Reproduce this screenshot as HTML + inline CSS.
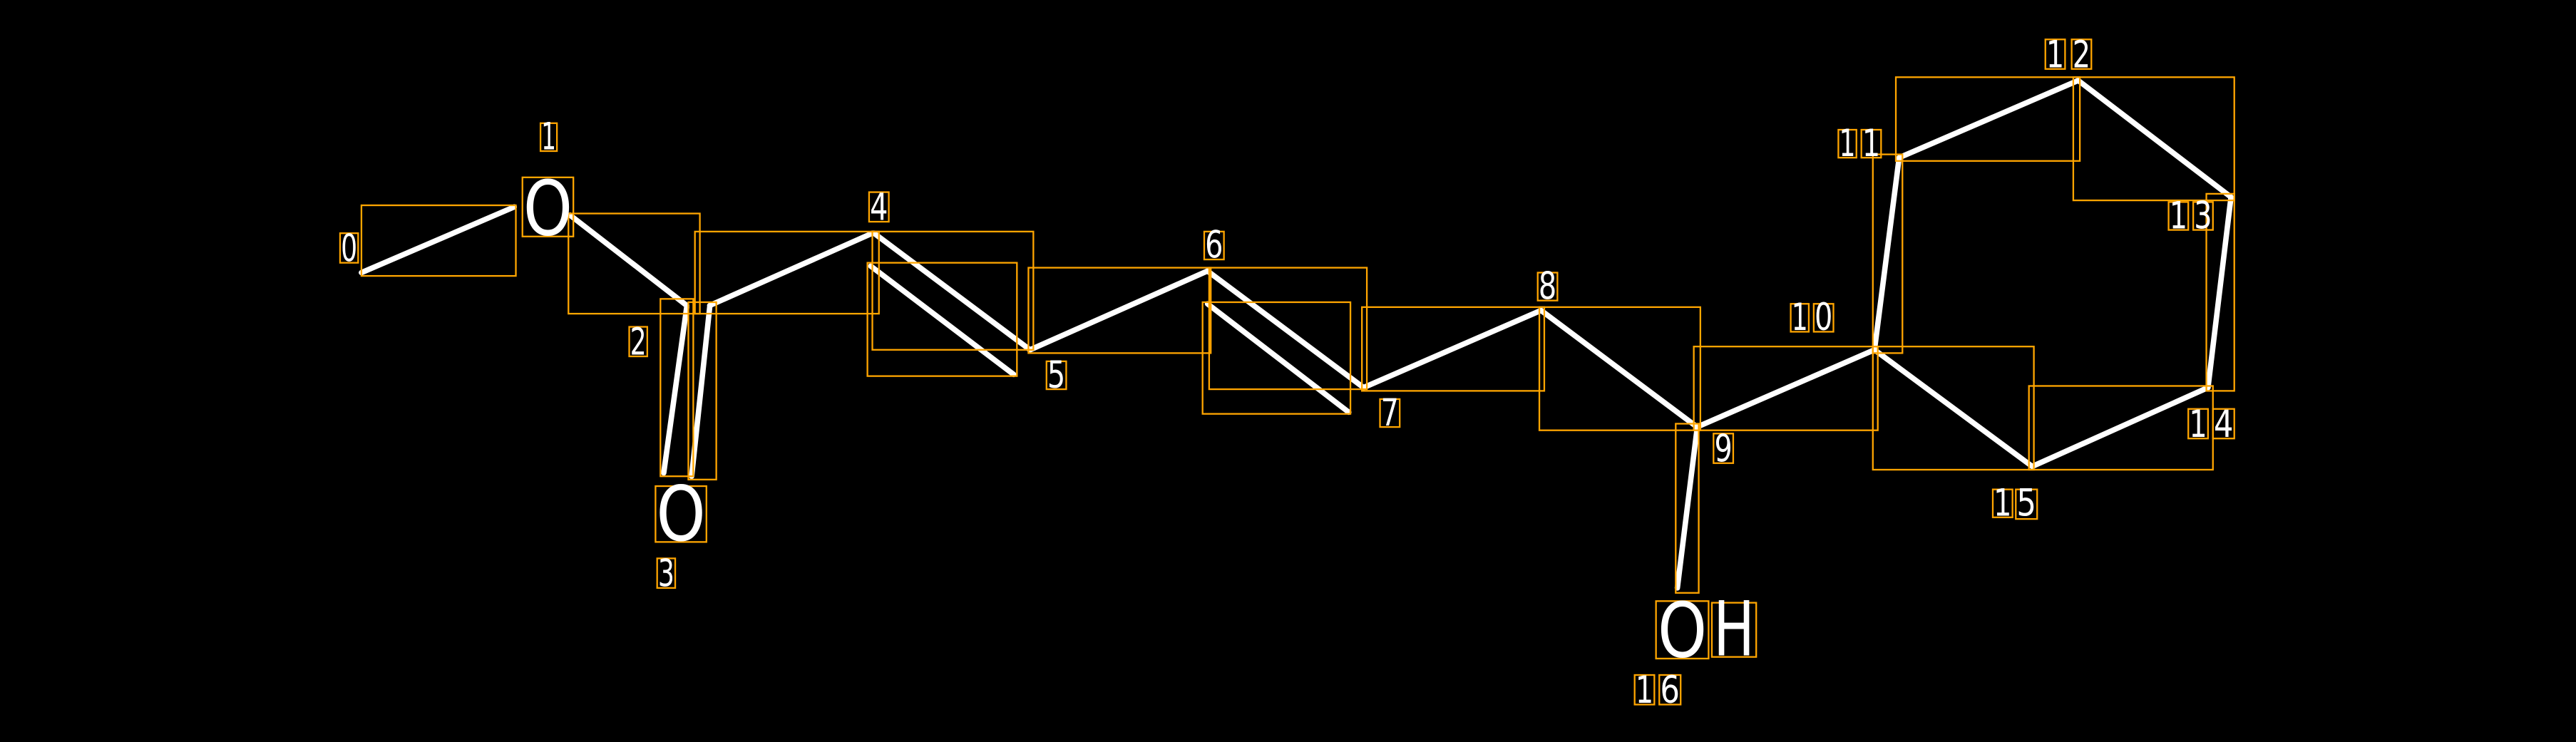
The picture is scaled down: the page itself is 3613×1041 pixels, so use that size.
<!DOCTYPE html>
<html><head><meta charset="utf-8"><style>
html,body{margin:0;padding:0;background:#000;width:3613px;height:1041px;overflow:hidden}
svg{display:block}
text{font-family:"DejaVu Sans","Liberation Sans",sans-serif;fill:#fff}
</style></head><body>
<svg width="3613" height="1041" viewBox="0 0 1568 451.8" preserveAspectRatio="none" xmlns="http://www.w3.org/2000/svg">
<rect width="1568" height="451.8" fill="#000"/>
<g stroke="#fff" stroke-width="3.3" stroke-linecap="round" fill="none">
<line x1="220" y1="166" x2="313" y2="126"/>
<line x1="347" y1="131" x2="418" y2="186"/>
<line x1="432" y1="186" x2="531" y2="142"/>
<line x1="418" y1="187" x2="404" y2="288"/>
<line x1="432" y1="187" x2="421" y2="290"/>
<line x1="532" y1="142" x2="627" y2="213"/>
<line x1="530" y1="162" x2="617" y2="228"/>
<line x1="627" y1="213" x2="735" y2="165"/>
<line x1="735" y1="165" x2="830" y2="236"/>
<line x1="735" y1="185" x2="821" y2="251"/>
<line x1="830" y1="236" x2="938" y2="189"/>
<line x1="938" y1="189" x2="1033" y2="260"/>
<line x1="1033" y1="260" x2="1141" y2="213"/>
<line x1="1033" y1="261" x2="1021" y2="358"/>
<line x1="1141" y1="213" x2="1156" y2="96"/>
<line x1="1156" y1="96" x2="1265" y2="49"/>
<line x1="1265" y1="49" x2="1358" y2="120"/>
<line x1="1358" y1="120" x2="1344" y2="236"/>
<line x1="1141" y1="213" x2="1237" y2="284"/>
<line x1="1237" y1="284" x2="1344" y2="236"/>
</g>
<g stroke="#ffa500" stroke-width="1" fill="none">
<rect x="220" y="125" width="94" height="43"/>
<rect x="318" y="108" width="31" height="36"/>
<rect x="329" y="75" width="10" height="17"/>
<rect x="346" y="130" width="80" height="61"/>
<rect x="423" y="141" width="112" height="50"/>
<rect x="402" y="182" width="20" height="108"/>
<rect x="419" y="184" width="17" height="108"/>
<rect x="383" y="199" width="11" height="18"/>
<rect x="399" y="296" width="31" height="34"/>
<rect x="400" y="340" width="11" height="18"/>
<rect x="529" y="117" width="12" height="18"/>
<rect x="531" y="141" width="98" height="72"/>
<rect x="528" y="160" width="91" height="69"/>
<rect x="626" y="163" width="111" height="52"/>
<rect x="637" y="220" width="12" height="17"/>
<rect x="733" y="141" width="12" height="17"/>
<rect x="736" y="163" width="96" height="74"/>
<rect x="732" y="184" width="90" height="68"/>
<rect x="829" y="187" width="111" height="51"/>
<rect x="840" y="243" width="12" height="17"/>
<rect x="936" y="166" width="12" height="17"/>
<rect x="937" y="187" width="98" height="75"/>
<rect x="1031" y="211" width="112" height="51"/>
<rect x="1043" y="264" width="12" height="18"/>
<rect x="1090" y="185" width="11" height="17"/>
<rect x="1104" y="185" width="12" height="17"/>
<rect x="1020" y="258" width="14" height="103"/>
<rect x="1008" y="366" width="32" height="35"/>
<rect x="1042" y="367" width="27" height="33"/>
<rect x="995" y="411" width="12" height="18"/>
<rect x="1010" y="411" width="13" height="18"/>
<rect x="1140" y="94" width="18" height="121"/>
<rect x="1119" y="79" width="11" height="17"/>
<rect x="1133" y="79" width="12" height="17"/>
<rect x="1154" y="47" width="112" height="51"/>
<rect x="1245" y="24" width="12" height="18"/>
<rect x="1261" y="24" width="12" height="18"/>
<rect x="1262" y="47" width="98" height="75"/>
<rect x="1320" y="123" width="12" height="17"/>
<rect x="1335" y="123" width="12" height="17"/>
<rect x="1343" y="118" width="17" height="120"/>
<rect x="1332" y="249" width="12" height="18"/>
<rect x="1347" y="249" width="13" height="18"/>
<rect x="1140" y="211" width="98" height="75"/>
<rect x="1213" y="298" width="12" height="17"/>
<rect x="1227" y="298" width="13" height="18"/>
<rect x="1235" y="235" width="112" height="51"/>
<rect x="207" y="142" width="11" height="18"/>
</g>
<g font-size="46" text-anchor="middle">
<text x="333.5" y="143" textLength="30" lengthAdjust="spacingAndGlyphs">O</text>
<text x="414.5" y="329" textLength="30" lengthAdjust="spacingAndGlyphs">O</text>
<text x="1024" y="400" textLength="30" lengthAdjust="spacingAndGlyphs">O</text>
<text x="1055.5" y="399" textLength="25" lengthAdjust="spacingAndGlyphs">H</text>
</g>
<g font-size="23" text-anchor="middle">
<text x="334" y="91" textLength="9" lengthAdjust="spacingAndGlyphs">1</text>
<text x="388.5" y="216" textLength="10" lengthAdjust="spacingAndGlyphs">2</text>
<text x="405.5" y="357" textLength="10" lengthAdjust="spacingAndGlyphs">3</text>
<text x="535" y="134" textLength="11" lengthAdjust="spacingAndGlyphs">4</text>
<text x="643" y="236" textLength="11" lengthAdjust="spacingAndGlyphs">5</text>
<text x="739" y="157" textLength="11" lengthAdjust="spacingAndGlyphs">6</text>
<text x="846" y="259" textLength="11" lengthAdjust="spacingAndGlyphs">7</text>
<text x="942" y="182" textLength="11" lengthAdjust="spacingAndGlyphs">8</text>
<text x="1049" y="281" textLength="11" lengthAdjust="spacingAndGlyphs">9</text>
<text x="1095.5" y="201" textLength="10" lengthAdjust="spacingAndGlyphs">1</text>
<text x="1110" y="201" textLength="11" lengthAdjust="spacingAndGlyphs">0</text>
<text x="1001" y="428" textLength="11" lengthAdjust="spacingAndGlyphs">1</text>
<text x="1016.5" y="428" textLength="12" lengthAdjust="spacingAndGlyphs">6</text>
<text x="1124.5" y="95" textLength="10" lengthAdjust="spacingAndGlyphs">1</text>
<text x="1139" y="95" textLength="11" lengthAdjust="spacingAndGlyphs">1</text>
<text x="1251" y="41" textLength="11" lengthAdjust="spacingAndGlyphs">1</text>
<text x="1267" y="41" textLength="11" lengthAdjust="spacingAndGlyphs">2</text>
<text x="1326" y="139" textLength="11" lengthAdjust="spacingAndGlyphs">1</text>
<text x="1341" y="139" textLength="11" lengthAdjust="spacingAndGlyphs">3</text>
<text x="1338" y="266" textLength="11" lengthAdjust="spacingAndGlyphs">1</text>
<text x="1353.5" y="266" textLength="12" lengthAdjust="spacingAndGlyphs">4</text>
<text x="1219" y="314" textLength="11" lengthAdjust="spacingAndGlyphs">1</text>
<text x="1233.5" y="314" textLength="12" lengthAdjust="spacingAndGlyphs">5</text>
<text x="212.5" y="159" textLength="10" lengthAdjust="spacingAndGlyphs">0</text>
</g>
</svg>
</body></html>
